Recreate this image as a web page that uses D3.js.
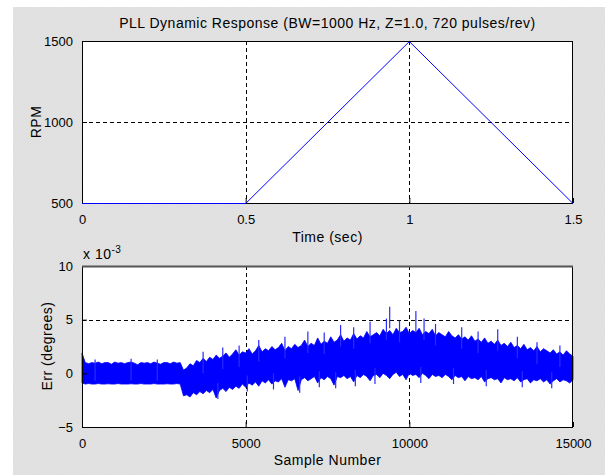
<!DOCTYPE html>
<html>
<head>
<meta charset="utf-8">
<script src="https://cdn.jsdelivr.net/npm/d3@7"></script>
<style>
  body { margin: 0; background: #fff; }
  svg { display: block; font-family: "Liberation Sans", Arial, sans-serif; }
  .tick text { font-size: 13px; fill: #000; }
  .lbl { font-size: 14px; fill: #000; letter-spacing: 0.5px; }
</style>
</head>
<body>
<svg width="605" height="475"></svg>
<script>
// top plot: speed profile
const timeX = [0, 0.5, 1, 1.5];
const rpmY = [500, 500, 1500, 500];
const timeTicks = [0, 0.5, 1, 1.5];
const rpmTicks = [500, 1000, 1500];

// bottom plot: error envelope (x 1e-3 degrees), one value per 100 samples
const errStep = 100;
const errUpper = [
  1.9, 1.0, 0.9, 1.0, 0.95, 1.05, 0.9, 1.0, 1.0, 0.85,
  1.05, 0.95, 1.0, 0.9, 1.0, 1.05, 0.95, 0.8, 1.0, 0.95,
  1.0, 0.9, 1.05, 0.95, 0.85, 1.0, 1.0, 0.9, 1.05, 0.95,
  1.0, 0.3, 0.5, 0.9, 0.7, 1.2, 1.0, 1.4, 1.1, 1.5,
  1.3, 1.7, 1.4, 1.6, 1.9, 1.5, 1.8, 2.2, 1.7, 2.0,
  1.9, 2.3, 1.8, 2.1, 2.6, 2.0, 2.3, 2.1, 2.5, 2.2,
  2.4, 2.8, 2.1, 2.5, 2.3, 2.7, 2.4, 2.6, 3.1, 2.5,
  2.8, 2.6, 3.3, 2.7, 3.0, 2.8, 3.4, 2.9, 3.1, 3.6,
  3.0, 3.3, 3.1, 3.7, 3.2, 3.5, 3.3, 3.9, 3.4, 3.6,
  3.8, 3.5, 4.1, 3.7, 4.0, 3.6, 4.2, 3.8, 3.9, 4.3,
  3.7, 4.0, 3.8, 4.2, 3.6, 3.9, 3.7, 4.1, 3.5, 3.8,
  3.6, 3.4, 3.9, 3.5, 3.3, 3.6, 3.2, 3.4, 3.1, 3.5,
  3.0, 3.2, 2.9, 3.3, 2.8, 3.0, 2.7, 3.1, 2.6, 2.8,
  2.5, 2.9, 2.4, 2.6, 2.3, 2.7, 2.2, 2.4, 2.1, 2.5,
  2.0, 2.3, 2.1, 1.9, 2.2, 1.8, 2.0, 1.7, 2.1, 1.8,
  1.6
];
const errLower = [
  -0.9, -1.0, -0.95, -1.0, -1.0, -0.95, -1.0, -1.0, -0.97, -1.0,
  -1.0, -0.95, -1.0, -1.0, -1.0, -0.97, -1.0, -1.0, -0.95, -1.0,
  -1.0, -1.0, -0.95, -1.0, -1.0, -1.0, -0.97, -1.0, -1.0, -0.95,
  -1.0, -2.1, -2.0, -2.2, -1.8, -2.0, -1.7, -1.9, -1.6, -1.8,
  -1.5, -2.3, -1.6, -1.4, -1.7, -1.3, -1.5, -1.2, -1.4, -1.0,
  -1.3, -0.9, -1.1, -0.8, -1.2, -0.7, -0.9, -0.6, -1.0, -0.7,
  -0.8, -0.5, -1.3, -0.6, -0.7, -0.5, -1.6, -0.6, -0.4, -0.7,
  -0.5, -0.3, -0.9, -0.4, -0.6, -0.3, -0.5, -1.1, -0.3, -0.4,
  -0.2, -0.5, -0.3, -0.8, -0.2, -0.4, -0.1, -0.3, -0.7, -0.2,
  -0.1, -0.4, 0.0, -0.2, -0.5, -0.1, 0.1, -0.3, -0.1, -0.6,
  0.0, -0.2, -0.1, -0.4, 0.0, -0.2, -0.5, -0.1, -0.3, -0.2,
  -0.4, -0.1, -0.3, -0.6, -0.2, -0.4, -0.3, -0.7, -0.3, -0.5,
  -0.4, -0.6, -0.3, -0.8, -0.5, -0.4, -0.6, -0.5, -0.9, -0.4,
  -0.6, -0.5, -0.7, -0.4, -0.8, -0.6, -0.5, -0.9, -0.6, -0.7,
  -0.5, -0.8, -0.6, -1.0, -0.7, -0.5, -0.8, -0.6, -0.7, -0.9,
  -0.6
];
// isolated peaks standing out of the band: [sample, top value]
const errPeaksUp = [
  [9400, 6.2], [10200, 5.8], [9300, 5.1], [10450, 5.1], [7900, 4.5],
  [8800, 4.8], [12700, 4.1], [6900, 3.9], [11600, 4.3], [5400, 3.1],
  [3700, 2.0], [4300, 2.4], [4800, 2.6], [6200, 3.4], [7400, 3.8],
  [8300, 4.3], [9700, 4.9], [10800, 4.6], [12100, 3.9], [13300, 3.4],
  [13900, 2.9], [14600, 2.6], [400, 1.3], [1500, 1.35], [2300, 1.3]
];
// peaks reaching below the band: [sample, bottom value]
const errPeaksDown = [
  [4150, -2.4], [5050, -1.7], [5850, -1.5], [6650, -1.8], [7250, -1.3],
  [7750, -1.4], [8350, -1.2], [8950, -1.0], [10350, -0.9], [11350, -1.0],
  [12350, -1.2], [13450, -1.3], [14350, -1.4]
];
const sampleTicks = [0, 5000, 10000, 15000];
const errTicks = [-5, 0, 5, 10];

const svg = d3.select("svg");
const width = +svg.attr("width");
const height = +svg.attr("height");

// grey figure background
const defs = svg.append("defs");
const pat = defs.append("pattern")
  .attr("id", "hatch")
  .attr("width", 3).attr("height", 3)
  .attr("patternUnits", "userSpaceOnUse");
pat.append("rect").attr("width", 3).attr("height", 3).attr("fill", "#e3e3e3");
pat.append("path").attr("d", "M0,3 L3,0").attr("stroke", "#dadada").attr("stroke-width", 0.8);

svg.append("rect")
  .attr("x", 13).attr("y", 7)
  .attr("width", width - 13).attr("height", height - 7)
  .attr("fill", "url(#hatch)");

const left = 82, right = 573;

const drawGrid = (g, x, y, xTicks, yTicks, h) => {
  const w = right - left;
  g.append("rect").attr("width", w).attr("height", h).attr("fill", "#fff");

  g.append("g").selectAll("line").data(xTicks.filter(d => x(d) > 0.5 && x(d) < w - 0.5))
    .enter().append("line")
    .attr("x1", d => Math.round(x(d)) + 0.5).attr("x2", d => Math.round(x(d)) + 0.5)
    .attr("y1", 0).attr("y2", h)
    .attr("stroke", "#000").attr("stroke-dasharray", "4,3");
  g.append("g").selectAll("line").data(yTicks.filter(d => y(d) > 0.5 && y(d) < h - 0.5))
    .enter().append("line")
    .attr("y1", d => Math.round(y(d)) + 0.5).attr("y2", d => Math.round(y(d)) + 0.5)
    .attr("x1", 0).attr("x2", w)
    .attr("stroke", "#000").attr("stroke-dasharray", "4,3");
};

const finishAxes = (g, x, y, xTicks, yTicks, xFmt, yFmt, h, topColor) => {
  const w = right - left;
  const xa = g.append("g")
    .attr("transform", `translate(0,${h})`)
    .call(d3.axisBottom(x).tickValues(xTicks).tickFormat(xFmt).tickSizeInner(-5).tickSizeOuter(0).tickPadding(12));
  xa.select(".domain").remove();
  xa.selectAll(".tick line").attr("stroke", "#000");

  const ya = g.append("g")
    .call(d3.axisLeft(y).tickValues(yTicks).tickFormat(yFmt).tickSizeInner(-5).tickSizeOuter(0).tickPadding(9));
  ya.select(".domain").remove();
  ya.selectAll(".tick line").attr("stroke", "#000");

  g.append("rect")
    .attr("x", 0.5).attr("y", 0.5)
    .attr("width", w - 1).attr("height", h)
    .attr("fill", "none").attr("stroke", "#000");
  if (topColor) {
    g.append("line").attr("x1", 0).attr("x2", w).attr("y1", 0.5).attr("y2", 0.5)
      .attr("stroke", topColor).attr("stroke-width", 2);
  }
};

// ---- top subplot ----
const topH = 162;
const gTop = svg.append("g").attr("transform", `translate(${left},41)`);
const xTime = d3.scaleLinear().domain([0, 1.5]).range([0, right - left]);
const yRpm = d3.scaleLinear().domain([500, 1500]).range([topH, 0]);

drawGrid(gTop, xTime, yRpm, timeTicks, rpmTicks, topH);
finishAxes(gTop, xTime, yRpm, timeTicks, rpmTicks, d3.format("~g"), d3.format("d"), topH, null);

gTop.append("path")
  .datum(timeX.map((t, i) => [t, rpmY[i]]))
  .attr("fill", "none")
  .attr("stroke", "#0000ff")
  .attr("stroke-width", 1)
  .attr("d", d3.line().x(d => xTime(d[0])).y(d => yRpm(d[1]) + 0.5));

svg.append("text").attr("class", "lbl")
  .attr("x", (left + right) / 2).attr("y", 28)
  .attr("text-anchor", "middle")
  .text("PLL Dynamic Response (BW=1000 Hz, Z=1.0, 720 pulses/rev)");

svg.append("text").attr("class", "lbl")
  .attr("x", (left + right) / 2).attr("y", 242)
  .attr("text-anchor", "middle")
  .text("Time (sec)");

svg.append("text").attr("class", "lbl")
  .attr("transform", `translate(41,122) rotate(-90)`)
  .attr("text-anchor", "middle")
  .text("RPM");

// ---- bottom subplot ----
const botH = 161;
const gBot = svg.append("g").attr("transform", `translate(${left},266)`);
const xSample = d3.scaleLinear().domain([0, 15000]).range([0, right - left]);
const yErr = d3.scaleLinear().domain([-5, 10]).range([botH, 0]);

drawGrid(gBot, xSample, yErr, sampleTicks, errTicks, botH);

const band = errUpper.map((u, i) => ({ s: i * errStep, hi: u, lo: errLower[i] }));
gBot.append("path")
  .datum(band)
  .attr("fill", "#0000ff")
  .attr("stroke", "#0000ff")
  .attr("stroke-width", 0.8)
  .attr("d", d3.area().x(d => xSample(d.s)).y0(d => yErr(d.lo)).y1(d => yErr(d.hi)));

gBot.append("g").selectAll("line").data(errPeaksUp)
  .enter().append("line")
  .attr("x1", d => xSample(d[0])).attr("x2", d => xSample(d[0]))
  .attr("y1", d => yErr(d[1])).attr("y2", d => yErr(d[1] - 2))
  .attr("stroke", "#2a2aff").attr("stroke-width", 1.2);

gBot.append("g").selectAll("line").data(errPeaksDown)
  .enter().append("line")
  .attr("x1", d => xSample(d[0])).attr("x2", d => xSample(d[0]))
  .attr("y1", d => yErr(d[1])).attr("y2", d => yErr(d[1] + 1.5))
  .attr("stroke", "#2a2aff").attr("stroke-width", 1.2);

finishAxes(gBot, xSample, yErr, sampleTicks, errTicks, d3.format("d"), d3.format("d"), botH, "#555");

svg.append("text").attr("class", "lbl")
  .attr("x", (left + right) / 2).attr("y", 465)
  .attr("text-anchor", "middle")
  .text("Sample Number");

svg.append("text").attr("class", "lbl")
  .attr("transform", `translate(52,346) rotate(-90)`)
  .attr("text-anchor", "middle")
  .text("Err (degrees)");

const expo = svg.append("text").attr("class", "lbl")
  .attr("x", 83).attr("y", 259);
expo.append("tspan").text("x 10");
expo.append("tspan").attr("dy", -6).attr("font-size", 10).text("-3");
</script>
</body>
</html>
